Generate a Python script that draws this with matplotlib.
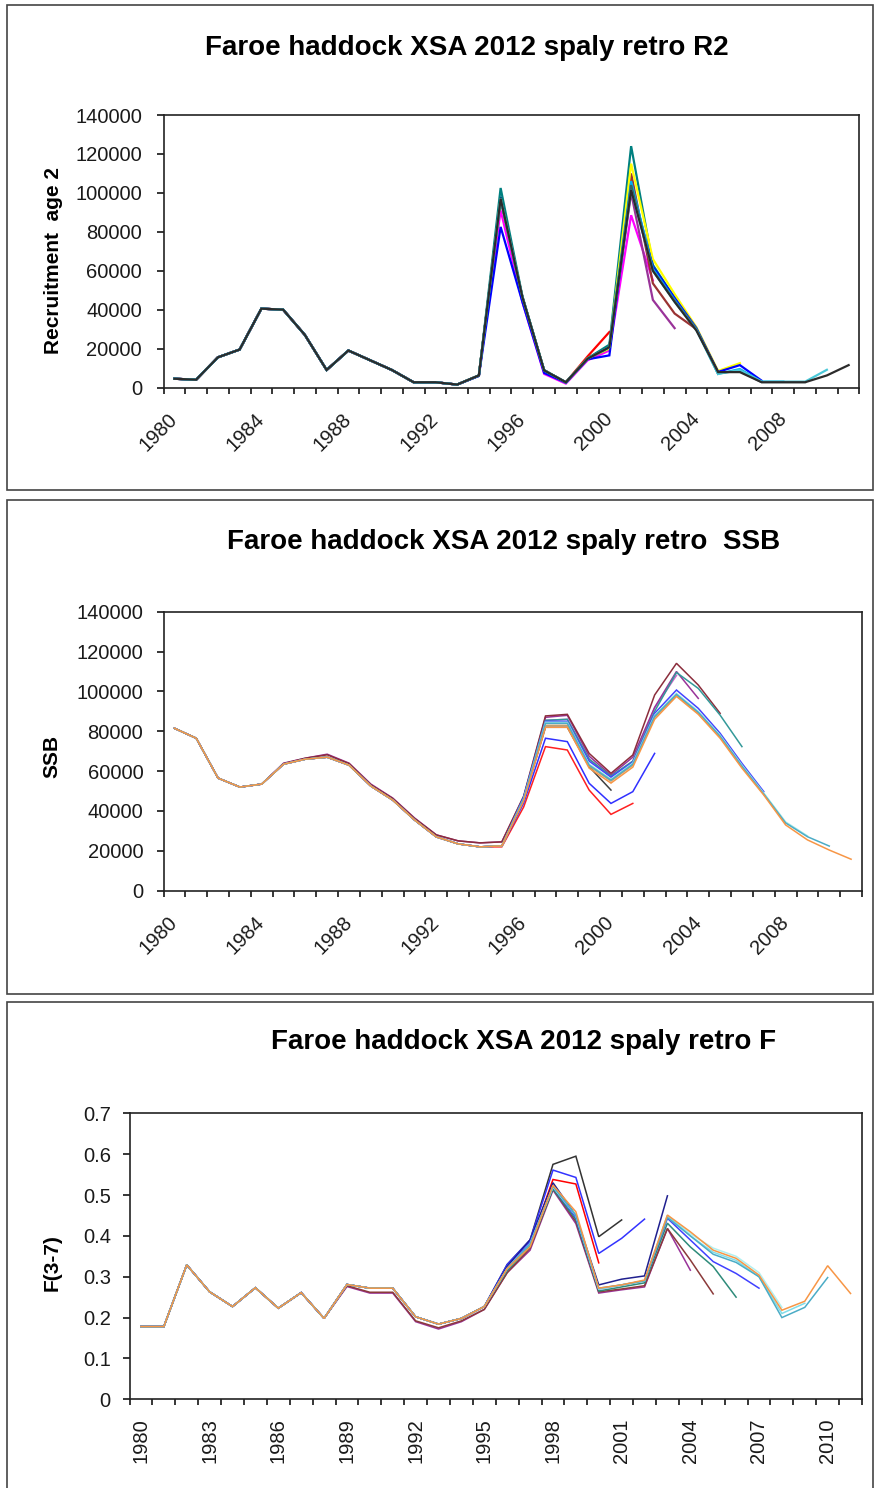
import numpy as np
import matplotlib.pyplot as plt
from matplotlib.patches import Rectangle
from matplotlib.ticker import FuncFormatter

plt.rcParams['font.family'] = ['Liberation Sans', 'DejaVu Sans']

years = list(range(1980, 2012))

# ---- R2 (recruitment age 2) : final run + retro tails (start year, values) ----
r2_final = [4500, 4000, 15500, 19500, 40500, 40000, 27000, 9000, 19000, 14000,
            9000, 2700, 2700, 1500, 6200, 97000, 46500, 8800, 2700, 14800,
            20700, 101500, 60000, 44000, 29300, 7900, 7900, 2700, 2700, 2700,
            6200, 11500]
r2_2000 = (1999, [16000, 28500])
r2_2001 = (1994, [6000, 98000, 46000, 8500, 2500, 15000, 20000, 103000])
r2_2002 = (1994, [6000, 91000, 44000, 7000, 2000, 14000, 19000, 88500, 55000])
r2_2003 = (1999, [15000, 20000, 100000, 45000, 30500])
r2_2004 = (1999, [15000, 21000, 110000, 53500, 38000, 30000])
r2_2005 = (1994, [6000, 102500, 47000, 9000, 2500, 15000, 22000, 124000, 63000, 46000, 30000, 7000])
r2_2006 = (1999, [15000, 20000, 115000, 66000, 48000, 31000, 8500, 12500])
r2_2007 = (1994, [6000, 82500, 44000, 7500, 2500, 14500, 16500, 104000, 62000, 46000, 30500, 8000, 11500, 3500])
r2_2008 = (2001, [106000, 61000, 45000, 30000, 7000, 9500, 3000, 3000])
r2_2009 = (2001, [104000, 60000, 44500, 30000, 7500, 8500, 2800, 2800, 2800])
r2_2010 = (2004, [29500, 7000, 9000, 3000, 3000, 3000, 9100])
r2_runs = [r2_2000, r2_2001, r2_2002, r2_2003, r2_2004, r2_2005, r2_2006,
           r2_2007, r2_2008, r2_2009, r2_2010]
r2_colors = ['#FF0000', '#000080', '#FF00FF', '#993399', '#993333', '#008080',
             '#FFFF00', '#0000FF', '#00B0F0', '#336666', '#4BC8D8', '#2B2B2B']

# ---- SSB ----
ssb_final = [81500, 76500, 56500, 52000, 53500, 63500, 66000, 67000, 63000, 52500,
             45500, 35500, 27000, 23500, 22000, 22500, 45000, 82000, 82000, 61500,
             54000, 62000, 86000, 97500, 88500, 76500, 61500, 48000, 33000, 25500,
             20400, 15800]
ssb_2000 = (1996, [45500, 82000, 82000, 62200, 50500])
ssb_2001 = (1995, [22000, 42000, 72300, 70600, 50500, 38300, 43800])
ssb_2002 = (1995, [22500, 44000, 76500, 74800, 53900, 43800, 49700, 68900])
ssb_2003 = (1996, [46500, 85500, 86000, 66000, 57000, 65000, 91700, 108000])
ssb_2004 = (1985, [64000, 66500, 68500, 64000, 53500, 46500, 36500, 28000, 25000, 24000,
                   24500, 47000, 87000, 88000, 67500, 58000, 67000, 92000, 110000, 96500])
ssb_2005 = (1985, [63800, 66500, 68200, 63800, 53200, 46300, 36300, 28000, 25000, 24000,
                   24500, 47500, 87700, 88500, 68900, 58900, 68100, 98200, 114100, 103200, 89000])
ssb_2006 = (1996, [47000, 85500, 86000, 66000, 57500, 65000, 90000, 109500, 101500, 88100, 72300])
ssb_2007 = (1996, [47000, 85000, 85000, 65000, 57000, 64500, 89000, 100700, 91500, 79000, 63900, 49700])
ssb_2008 = (1996, [46000, 83000, 83000, 62500, 55000, 63000, 87000, 98000, 89000, 77000, 62000, 48500, 34000])
ssb_2009 = (1996, [46000, 84500, 84500, 63500, 56000, 64000, 88000, 99000, 90000, 78000, 63000, 49000, 34500, 27500])
ssb_2010 = (1996, [46000, 84000, 84000, 63000, 55500, 63500, 87500, 98500, 89500, 77500, 62500, 48500, 34000, 27100, 22400])
ssb_runs = [ssb_2000, ssb_2001, ssb_2002, ssb_2003, ssb_2004, ssb_2005, ssb_2006,
            ssb_2007, ssb_2008, ssb_2009, ssb_2010]
ssb_colors = ['#404040', '#FF2020', '#3030FF', '#CC66CC', '#993399', '#8B2D3C',
              '#339999', '#4444FF', '#C0A070', '#A0E8E8', '#4BACC6', '#F79646']

# ---- F(3-7) ----
f_final = [0.178, 0.178, 0.329, 0.263, 0.227, 0.273, 0.223, 0.261, 0.198, 0.281,
           0.272, 0.272, 0.202, 0.184, 0.198, 0.227, 0.32, 0.373, 0.524, 0.459,
           0.272, 0.28, 0.292, 0.451, 0.41, 0.365, 0.345, 0.304, 0.218, 0.24,
           0.327, 0.259]
f_2000 = (1996, [0.32, 0.38, 0.538, 0.527, 0.334])
f_2001 = (1996, [0.33, 0.39, 0.575, 0.595, 0.398, 0.439])
f_2002 = (1996, [0.33, 0.39, 0.561, 0.543, 0.357, 0.394, 0.441])
f_2003 = (1996, [0.325, 0.39, 0.53, 0.45, 0.28, 0.294, 0.302, 0.498])
f_2004 = (1989, [0.276, 0.26, 0.26, 0.19, 0.172, 0.19, 0.22, 0.31, 0.365, 0.512,
                 0.43, 0.26, 0.268, 0.275, 0.418, 0.316])
f_2005 = (1989, [0.278, 0.262, 0.262, 0.192, 0.175, 0.192, 0.22, 0.31, 0.37, 0.515,
                 0.435, 0.263, 0.27, 0.278, 0.418, 0.341, 0.258])
f_2006 = (1996, [0.315, 0.375, 0.515, 0.44, 0.265, 0.275, 0.285, 0.431, 0.373, 0.325, 0.25])
f_2007 = (1996, [0.32, 0.385, 0.52, 0.445, 0.27, 0.28, 0.29, 0.443, 0.39, 0.337, 0.308, 0.272])
f_2008 = (1996, [0.32, 0.38, 0.52, 0.45, 0.27, 0.28, 0.29, 0.45, 0.405, 0.37, 0.35, 0.31, 0.225])
f_2009 = (1996, [0.32, 0.38, 0.52, 0.45, 0.27, 0.28, 0.29, 0.45, 0.40, 0.36, 0.34, 0.30, 0.21, 0.235])
f_2010 = (1996, [0.32, 0.38, 0.522, 0.45, 0.272, 0.28, 0.29, 0.445, 0.40, 0.355, 0.335, 0.30, 0.20, 0.225, 0.298])
f_runs = [f_2000, f_2001, f_2002, f_2003, f_2004, f_2005, f_2006,
          f_2007, f_2008, f_2009, f_2010]
f_colors = ['#FF0000', '#333333', '#3333FF', '#1F1F8F', '#993399', '#8B3A3A',
            '#2E8B7A', '#4040FF', '#B0F0F0', '#80DDE8', '#4BACC6', '#F79646']

W, H = 875, 1488
fig = plt.figure(figsize=(W / 100, H / 100), dpi=100)


def box(left, top, right, bottom):
    return [left / W, 1 - bottom / H, (right - left) / W, (bottom - top) / H]


# outer chart frames (one per Excel chart)
for top, bottom in [(5, 490), (500, 994), (1002, 1500)]:
    fig.patches.append(Rectangle((7 / W, 1 - bottom / H), 866 / W, (bottom - top) / H,
                                 transform=fig.transFigure, fill=False,
                                 edgecolor='#444444', lw=1.2))


def draw_panel(ax, final, runs, colors, lw, ymax, ystep, every, rot, title, tpos,
               ylabel, lpos, ypad):
    for (start, tail), c in zip(runs, colors):
        k = start - years[0]
        vals = final[:k] + tail
        ax.plot(range(len(vals)), vals, color=c, lw=lw, solid_joinstyle='miter')
    ax.plot(range(len(final)), final, color=colors[-1], lw=lw, solid_joinstyle='miter')

    ax.set_xlim(-0.5, len(years) - 0.5)
    ax.set_ylim(0, ymax)
    ax.set_yticks(np.arange(0, ymax + ystep / 2, ystep))
    ax.yaxis.set_major_formatter(FuncFormatter(lambda v, _: f'{v:g}'))
    ax.tick_params(axis='y', direction='out', length=5, width=1.1, labelsize=14.5,
                   pad=ypad, labelcolor='#1a1a1a')

    # tick marks between categories, labels at category centres
    ax.set_xticks(np.arange(-0.5, len(years), 1))
    ax.set_xticklabels([])
    ax.tick_params(axis='x', which='major', direction='out', length=4.5, width=1.1)
    pos = list(range(0, len(years), every))
    ax.set_xticks(pos, [str(years[p]) for p in pos], minor=True)
    if rot == 45:
        ax.tick_params(axis='x', which='minor', length=0, labelsize=14.5, pad=20.5,
                       labelcolor='#1a1a1a')
        for lbl in ax.get_xticklabels(minor=True):
            lbl.set_rotation(45)
            lbl.set_ha('right')
            lbl.set_va('center')
            lbl.set_rotation_mode('anchor')
    else:
        ax.tick_params(axis='x', which='minor', length=0, labelsize=14.5, pad=13.5,
                       labelrotation=90, labelcolor='#1a1a1a')

    for s in ax.spines.values():
        s.set_linewidth(1.2)
        s.set_color('#222222')

    fig.text(tpos[0] / W, 1 - tpos[1] / H, title, ha='center', va='center',
             fontsize=20, fontweight='bold')
    ax.set_ylabel(ylabel, fontsize=15, fontweight='bold')
    ax.yaxis.set_label_coords(lpos[0] / W, 1 - lpos[1] / H, transform=fig.transFigure)
    ax.yaxis.label.set_va('center')


ax1 = fig.add_axes(box(163.5, 115, 859.5, 387.5))
draw_panel(ax1, r2_final, r2_runs, r2_colors, 1.6, 140000, 20000, 4, 45,
           'Faroe haddock XSA 2012 spaly retro R2', (467, 48),
           'Recruitment  age 2', (54, 260), 10.5)

ax2 = fig.add_axes(box(163.5, 611.7, 862, 890.7))
draw_panel(ax2, ssb_final, ssb_runs, ssb_colors, 1.1, 140000, 20000, 4, 45,
           'Faroe haddock XSA 2012 spaly retro  SSB', (503.5, 542),
           'SSB', (52, 756), 9.5)

ax3 = fig.add_axes(box(129.5, 1113.3, 862, 1399.3))
draw_panel(ax3, f_final, f_runs, f_colors, 1.1, 0.7, 0.1, 3, 90,
           'Faroe haddock XSA 2012 spaly retro F', (524, 1042),
           'F(3-7)', (52, 1263), 8.5)

fig.savefig('out.png', dpi=100)
